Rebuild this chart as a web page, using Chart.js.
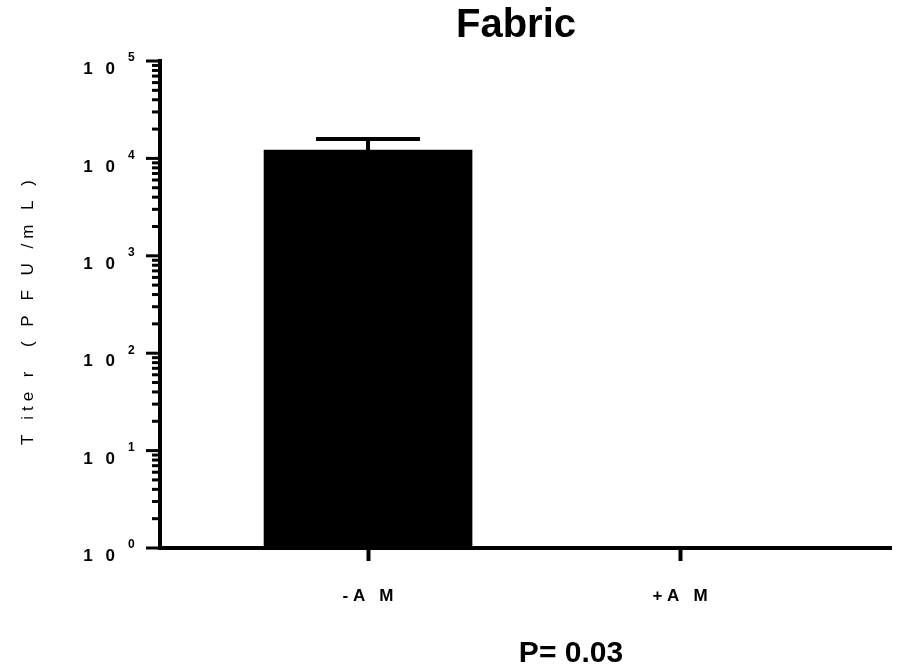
<!DOCTYPE html>
<html>
<head>
<meta charset="utf-8">
<script src="https://cdn.jsdelivr.net/npm/chart.js@4.4.1/dist/chart.umd.min.js"></script>
<style>
  html, body { margin: 0; padding: 0; background: #ffffff; }
  #wrap { width: 899px; height: 670px; }
</style>
</head>
<body>
<div id="wrap"><canvas id="c" width="899" height="670"></canvas></div>
<script>
// ---- data ----
const categories = ['- A   M', '+ A   M'];
const categoryPositions = [0, 1];
const titerMean = [12200, 1];
const titerErrorTop = [15800, null];
const yDecadeExponents = [0, 1, 2, 3, 4, 5];
const chartTitle = 'Fabric';
const yAxisTitle = 'T ite r  ( P F U /m L )';
const footNote = 'P= 0.03';

const FONT = "'Liberation Sans', Arial, Helvetica, sans-serif";

const overlay = {
  id: 'overlay',
  afterDatasetsDraw(chart) {
    const ctx = chart.ctx;
    const y = chart.scales.y;
    const meta = chart.getDatasetMeta(0);
    ctx.save();
    ctx.strokeStyle = '#000';
    ctx.lineWidth = 4;
    meta.data.forEach((el, i) => {
      const top = titerErrorTop[i];
      if (top == null) return;
      const yt = y.getPixelForValue(top);
      const yb = y.getPixelForValue(titerMean[i]);
      ctx.beginPath();
      ctx.moveTo(el.x, yb);
      ctx.lineTo(el.x, yt);
      ctx.moveTo(el.x - 52, yt);
      ctx.lineTo(el.x + 52, yt);
      ctx.stroke();
    });
    ctx.restore();
  },
  afterDraw(chart) {
    const ctx = chart.ctx;
    const y = chart.scales.y;
    const axisX = chart.chartArea.left;
    ctx.save();
    ctx.fillStyle = '#000';
    ctx.strokeStyle = '#000';
    ctx.lineWidth = 3;
    yDecadeExponents.forEach((k, idx) => {
      const base = Math.pow(10, k);
      const p = y.getPixelForValue(base);
      ctx.beginPath();
      ctx.moveTo(axisX - 14, p);
      ctx.lineTo(axisX, p);
      ctx.stroke();
      if (idx < yDecadeExponents.length - 1) {
        for (let m = 2; m <= 9; m++) {
          const pm = y.getPixelForValue(base * m);
          ctx.beginPath();
          ctx.moveTo(axisX - 8, pm);
          ctx.lineTo(axisX, pm);
          ctx.stroke();
        }
      }
      ctx.letterSpacing = '4px';
      ctx.font = 'bold 17px ' + FONT;
      ctx.textAlign = 'right';
      ctx.textBaseline = 'middle';
      ctx.fillText('1 0', 119, p + 8.5);
      ctx.letterSpacing = '0px';
      ctx.font = 'bold 12px ' + FONT;
      ctx.textAlign = 'left';
      ctx.fillText(String(k), 128, p - 3);
    });
    // y axis title
    ctx.save();
    ctx.translate(33, 310);
    ctx.rotate(-Math.PI / 2);
    ctx.letterSpacing = '5px';
    ctx.font = '17px ' + FONT;
    ctx.textAlign = 'center';
    ctx.textBaseline = 'alphabetic';
    ctx.fillText(yAxisTitle, 0, 0);
    ctx.restore();
    // title
    ctx.letterSpacing = '0px';
    ctx.font = 'bold 40px ' + FONT;
    ctx.textAlign = 'center';
    ctx.textBaseline = 'alphabetic';
    ctx.fillText(chartTitle, 516, 37);
    // footnote
    ctx.font = 'bold 30px ' + FONT;
    ctx.fillText(footNote, 571, 662);
    ctx.restore();
  }
};

new Chart(document.getElementById('c'), {
  type: 'bar',
  data: {
    datasets: [{
      data: categoryPositions.map((x, i) => ({ x: x, y: titerMean[i] })),
      backgroundColor: '#000000',
      borderWidth: 0,
      barThickness: 208
    }]
  },
  options: {
    responsive: false,
    animation: false,
    devicePixelRatio: 1,
    layout: { padding: { top: 61, right: 8, bottom: 0, left: 0 } },
    plugins: { legend: { display: false }, tooltip: { enabled: false }, title: { display: false } },
    scales: {
      x: {
        type: 'linear',
        offset: false,
        min: -0.6667,
        max: 1.676,
        afterBuildTicks(scale) { scale.ticks = categoryPositions.map(v => ({ value: v })); },
        afterFit(scale) { scale.height = 122; },
        ticks: {
          callback: (v) => categories[Math.round(v)],
          color: '#000',
          font: { family: FONT, size: 17, weight: 'bold' },
          padding: 25,
          maxRotation: 0,
          autoSkip: false
        },
        grid: { offset: false, drawOnChartArea: false, drawTicks: true, tickLength: 13, tickWidth: 4, tickColor: '#000' },
        border: { display: true, width: 4, color: '#000' }
      },
      y: {
        type: 'logarithmic',
        min: 1,
        max: 100000,
        afterBuildTicks(scale) { scale.ticks = yDecadeExponents.map(k => ({ value: Math.pow(10, k), major: true })); },
        afterFit(scale) { scale.width = 160; },
        ticks: { display: false },
        grid: { drawOnChartArea: false, drawTicks: false },
        border: { display: true, width: 4, color: '#000' }
      }
    }
  },
  plugins: [overlay]
});
</script>
</body>
</html>
